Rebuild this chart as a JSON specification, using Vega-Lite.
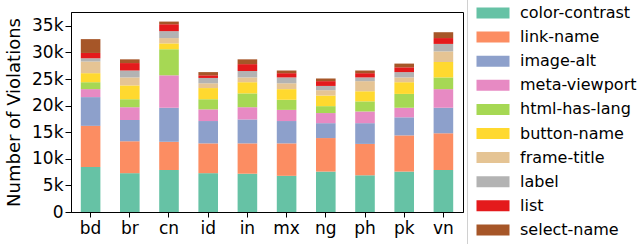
{
  "$schema": "https://vega.github.io/schema/vega-lite/v6.json",
  "width": 392,
  "height": 200,
  "autosize": {"type": "none"},
  "padding": {"left": 71, "top": 12, "right": 176, "bottom": 32},
  "background": "white",
  "config": {
    "font": "DejaVu Sans",
    "view": {"stroke": "#000", "strokeWidth": 1},
    "axis": {"domainColor": "#000", "tickColor": "#000", "labelColor": "#000", "titleColor": "#000", "grid": false, "labelFont": "DejaVu Sans", "titleFont": "DejaVu Sans", "titleFontWeight": "normal"}
  },
  "data": {"values": [
    {"country":"bd","rule":"color-contrast","count":8440},{"country":"bd","rule":"link-name","count":7760},{"country":"bd","rule":"image-alt","count":5400},{"country":"bd","rule":"meta-viewport","count":1500},{"country":"bd","rule":"html-has-lang","count":1300},{"country":"bd","rule":"button-name","count":1700},{"country":"bd","rule":"frame-title","count":2200},{"country":"bd","rule":"label","count":600},{"country":"bd","rule":"list","count":1000},{"country":"bd","rule":"select-name","count":2600},
    {"country":"br","rule":"color-contrast","count":7300},{"country":"br","rule":"link-name","count":6000},{"country":"br","rule":"image-alt","count":4000},{"country":"br","rule":"meta-viewport","count":2400},{"country":"br","rule":"html-has-lang","count":1500},{"country":"br","rule":"button-name","count":2600},{"country":"br","rule":"frame-title","count":1500},{"country":"br","rule":"label","count":1300},{"country":"br","rule":"list","count":1400},{"country":"br","rule":"select-name","count":700},
    {"country":"cn","rule":"color-contrast","count":7900},{"country":"cn","rule":"link-name","count":5300},{"country":"cn","rule":"image-alt","count":6400},{"country":"cn","rule":"meta-viewport","count":6100},{"country":"cn","rule":"html-has-lang","count":4900},{"country":"cn","rule":"button-name","count":1100},{"country":"cn","rule":"frame-title","count":1000},{"country":"cn","rule":"label","count":1300},{"country":"cn","rule":"list","count":1300},{"country":"cn","rule":"select-name","count":500},
    {"country":"id","rule":"color-contrast","count":7300},{"country":"id","rule":"link-name","count":5600},{"country":"id","rule":"image-alt","count":4200},{"country":"id","rule":"meta-viewport","count":2200},{"country":"id","rule":"html-has-lang","count":1900},{"country":"id","rule":"button-name","count":2100},{"country":"id","rule":"frame-title","count":900},{"country":"id","rule":"label","count":1000},{"country":"id","rule":"list","count":500},{"country":"id","rule":"select-name","count":600},
    {"country":"in","rule":"color-contrast","count":7200},{"country":"in","rule":"link-name","count":5700},{"country":"in","rule":"image-alt","count":4500},{"country":"in","rule":"meta-viewport","count":2300},{"country":"in","rule":"html-has-lang","count":2600},{"country":"in","rule":"button-name","count":2100},{"country":"in","rule":"frame-title","count":900},{"country":"in","rule":"label","count":1200},{"country":"in","rule":"list","count":1300},{"country":"in","rule":"select-name","count":900},
    {"country":"mx","rule":"color-contrast","count":6800},{"country":"mx","rule":"link-name","count":6100},{"country":"mx","rule":"image-alt","count":4200},{"country":"mx","rule":"meta-viewport","count":2100},{"country":"mx","rule":"html-has-lang","count":1900},{"country":"mx","rule":"button-name","count":2000},{"country":"mx","rule":"frame-title","count":1100},{"country":"mx","rule":"label","count":1100},{"country":"mx","rule":"list","count":800},{"country":"mx","rule":"select-name","count":500},
    {"country":"ng","rule":"color-contrast","count":7600},{"country":"ng","rule":"link-name","count":6300},{"country":"ng","rule":"image-alt","count":2800},{"country":"ng","rule":"meta-viewport","count":1900},{"country":"ng","rule":"html-has-lang","count":1300},{"country":"ng","rule":"button-name","count":2000},{"country":"ng","rule":"frame-title","count":1000},{"country":"ng","rule":"label","count":800},{"country":"ng","rule":"list","count":900},{"country":"ng","rule":"select-name","count":500},
    {"country":"ph","rule":"color-contrast","count":6900},{"country":"ph","rule":"link-name","count":5900},{"country":"ph","rule":"image-alt","count":3900},{"country":"ph","rule":"meta-viewport","count":2200},{"country":"ph","rule":"html-has-lang","count":1900},{"country":"ph","rule":"button-name","count":1900},{"country":"ph","rule":"frame-title","count":1900},{"country":"ph","rule":"label","count":700},{"country":"ph","rule":"list","count":800},{"country":"ph","rule":"select-name","count":500},
    {"country":"pk","rule":"color-contrast","count":7600},{"country":"pk","rule":"link-name","count":6800},{"country":"pk","rule":"image-alt","count":3400},{"country":"pk","rule":"meta-viewport","count":1800},{"country":"pk","rule":"html-has-lang","count":2600},{"country":"pk","rule":"button-name","count":2200},{"country":"pk","rule":"frame-title","count":900},{"country":"pk","rule":"label","count":1000},{"country":"pk","rule":"list","count":900},{"country":"pk","rule":"select-name","count":700},
    {"country":"vn","rule":"color-contrast","count":7900},{"country":"vn","rule":"link-name","count":6900},{"country":"vn","rule":"image-alt","count":4800},{"country":"vn","rule":"meta-viewport","count":3500},{"country":"vn","rule":"html-has-lang","count":2200},{"country":"vn","rule":"button-name","count":2900},{"country":"vn","rule":"frame-title","count":2000},{"country":"vn","rule":"label","count":1400},{"country":"vn","rule":"list","count":1100},{"country":"vn","rule":"select-name","count":1100}
  ]},
  "transform": [
    {"calculate": "indexof(['color-contrast','link-name','image-alt','meta-viewport','html-has-lang','button-name','frame-title','label','list','select-name'], datum.rule)", "as": "stackOrder"}
  ],
  "mark": {"type": "bar", "strokeWidth": 0},
  "encoding": {
    "x": {
      "field": "country", "type": "nominal",
      "scale": {"paddingInner": 0.5, "paddingOuter": 0.25},
      "axis": {"title": null, "labelAngle": 0, "labelFontSize": 17, "tickSize": 5, "labelPadding": 3}
    },
    "y": {
      "field": "count", "type": "quantitative", "stack": "zero",
      "scale": {"domain": [0, 37600], "nice": false},
      "axis": {"title": "Number of Violations", "titleFontSize": 18, "labelFontSize": 17, "values": [0, 5000, 10000, 15000, 20000, 25000, 30000, 35000], "labelExpr": "datum.value == 0 ? '0' : (datum.value / 1000) + 'k'", "tickSize": 6, "labelPadding": 2, "titlePadding": 8}
    },
    "color": {
      "field": "rule", "type": "nominal",
      "scale": {
        "domain": ["color-contrast", "link-name", "image-alt", "meta-viewport", "html-has-lang", "button-name", "frame-title", "label", "list", "select-name"],
        "range": ["#66c2a5", "#fc8d62", "#8da0cb", "#e78ac3", "#a6d854", "#ffd92f", "#e5c494", "#b3b3b3", "#e41a1c", "#a65628"]
      },
      "legend": {
        "title": null, "orient": "none", "legendX": 396, "legendY": -25,
        "symbolType": "M-3,-1H3V1H-3Z", "symbolSize": 121, "symbolStrokeWidth": 0,
        "labelFontSize": 16, "labelFont": "DejaVu Sans", "labelColor": "#000", "labelOffset": 19,
        "rowPadding": 8.1, "padding": 18,
        "strokeColor": "#d0d0d0", "cornerRadius": 3, "fillColor": "white", "labelLimit": 300
      }
    },
    "order": {"field": "stackOrder", "type": "quantitative", "sort": "ascending"}
  }
}
